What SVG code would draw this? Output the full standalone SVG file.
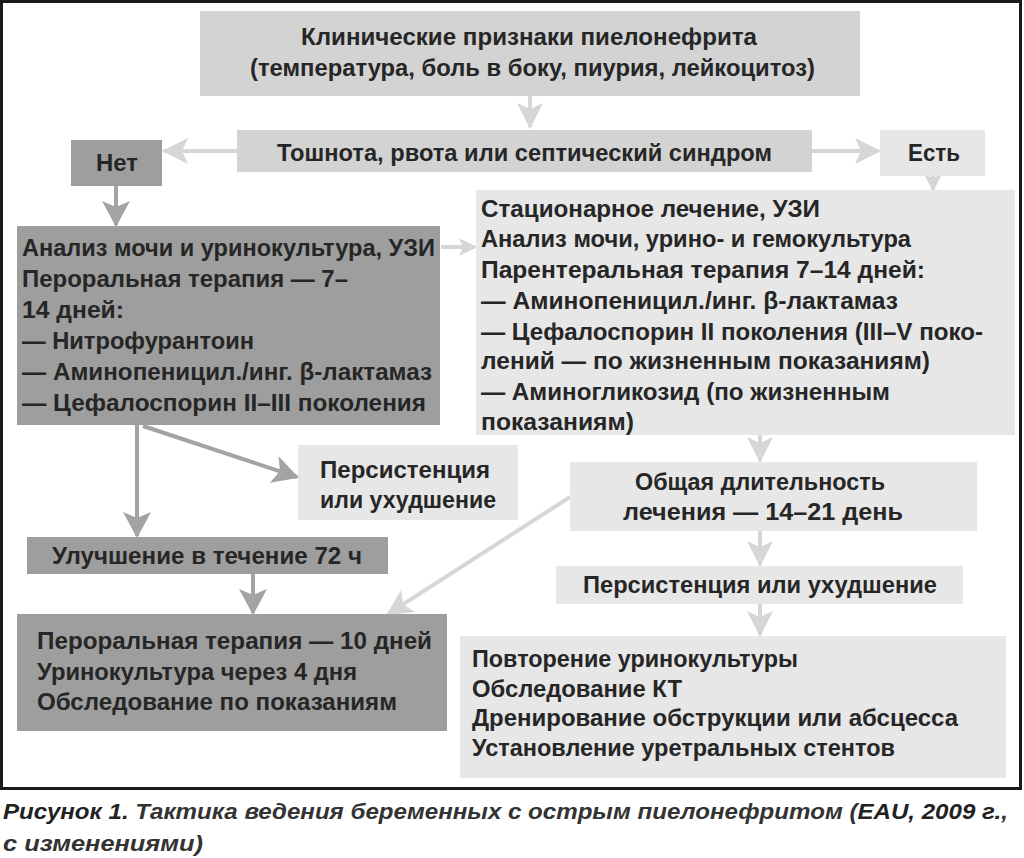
<svg xmlns="http://www.w3.org/2000/svg" width="1024" height="858" viewBox="0 0 1024 858">
<defs>
<style>
text{font-family:"Liberation Sans","Noto Sans",Arial,sans-serif;font-weight:bold;font-size:23px;fill:#262626}
.dark{fill:#9e9e9e}
.mid{fill:#d3d3d3}
.light{fill:#e7e7e7}
.cl{stroke:#d6d6d6;stroke-width:4;fill:none}
.cd{stroke:#a3a3a3;stroke-width:4;fill:none}
.cap{font-style:italic;font-size:22px;fill:#333;font-weight:bold}
</style>
<marker id="al" markerUnits="userSpaceOnUse" markerWidth="30" markerHeight="30" refX="24" refY="13" orient="auto"><path d="M0,0 L26,13 L0,26 L6,13 z" fill="#d6d6d6"/></marker>
<marker id="ad" markerUnits="userSpaceOnUse" markerWidth="30" markerHeight="30" refX="24" refY="14" orient="auto"><path d="M0,0 L26,14 L0,28 L6,14 z" fill="#a3a3a3"/></marker>
<marker id="as" markerUnits="userSpaceOnUse" markerWidth="20" markerHeight="20" refX="16" refY="9" orient="auto"><path d="M0,0 L18,9 L0,18 L4,9 z" fill="#d6d6d6"/></marker>
</defs>
<rect x="0" y="0" width="1024" height="858" fill="#fff"/>
<rect x="1.5" y="1.5" width="1019" height="787" fill="#fff" stroke="#1a1a1a" stroke-width="3"/>

<g id="connectors">
<path class="cl" d="M530,96 V127" marker-end="url(#al)"/>
<path class="cl" d="M237,151 H164" marker-end="url(#al)"/>
<path class="cl" d="M812,151 H879" marker-end="url(#al)"/>
<path class="cl" d="M933,176 V190" stroke-width="3" marker-end="url(#as)"/>
<path class="cd" d="M116,186 V225" marker-end="url(#ad)"/>
<path class="cl" d="M441,247 H475" marker-end="url(#as)"/>
<path class="cd" d="M137,425 V536" marker-end="url(#ad)"/>
<path class="cd" d="M143,426 L297,477" stroke-width="3" marker-end="url(#ad)"/>
<path class="cd" d="M253,574 V613" marker-end="url(#ad)"/>
<path class="cl" d="M760,435 V461" marker-end="url(#al)"/>
<path class="cl" d="M760,531 V565" marker-end="url(#al)"/>
<path class="cl" d="M760,604 V635" marker-end="url(#al)"/>
<path class="cl" d="M570,497 L388,614" stroke-width="2" marker-end="url(#al)"/>
</g>

<g id="n-top">
<rect class="mid" x="200" y="11" width="660" height="85"/>
<text x="301" y="45" textLength="456" lengthAdjust="spacingAndGlyphs">Клинические признаки пиелонефрита</text>
<text x="250" y="76" textLength="565" lengthAdjust="spacingAndGlyphs">(температура, боль в боку, пиурия, лейкоцитоз)</text>
</g>

<g id="n-nausea">
<rect class="mid" x="237" y="130" width="575" height="42"/>
<text x="277" y="161" textLength="495" lengthAdjust="spacingAndGlyphs">Тошнота, рвота или септический синдром</text>
</g>

<g id="n-no">
<rect class="dark" x="71" y="140" width="91" height="46"/>
<text x="96" y="171" textLength="42" lengthAdjust="spacingAndGlyphs">Нет</text>
</g>

<g id="n-yes">
<rect class="light" x="880" y="130" width="105" height="46"/>
<text x="908" y="161" textLength="52" lengthAdjust="spacingAndGlyphs">Есть</text>
</g>

<g id="n-oral">
<rect class="dark" x="17" y="226" width="423" height="199"/>
<text x="22" y="256" textLength="413" lengthAdjust="spacingAndGlyphs">Анализ мочи и уринокультура, УЗИ</text>
<text x="22" y="287" textLength="326" lengthAdjust="spacingAndGlyphs">Пероральная терапия — 7–</text>
<text x="22" y="318" textLength="102" lengthAdjust="spacingAndGlyphs">14 дней:</text>
<text x="22" y="349" textLength="232" lengthAdjust="spacingAndGlyphs">— Нитрофурантоин</text>
<text x="22" y="380" textLength="410" lengthAdjust="spacingAndGlyphs">— Аминопеницил./инг. β-лактамаз</text>
<text x="22" y="411" textLength="404" lengthAdjust="spacingAndGlyphs">— Цефалоспорин II–III поколения</text>
</g>

<g id="n-inpatient">
<rect class="light" x="476" y="190" width="539" height="245"/>
<text x="481" y="217" textLength="339" lengthAdjust="spacingAndGlyphs">Стационарное лечение, УЗИ</text>
<text x="481" y="247" textLength="430" lengthAdjust="spacingAndGlyphs">Анализ мочи, урино- и гемокультура</text>
<text x="481" y="278" textLength="444" lengthAdjust="spacingAndGlyphs">Парентеральная терапия 7–14 дней:</text>
<text x="481" y="309" textLength="417" lengthAdjust="spacingAndGlyphs">— Аминопеницил./инг. β-лактамаз</text>
<text x="481" y="340" textLength="502" lengthAdjust="spacingAndGlyphs">— Цефалоспорин II поколения (III–V поко-</text>
<text x="481" y="369" textLength="449" lengthAdjust="spacingAndGlyphs">лений — по жизненным показаниям)</text>
<text x="481" y="400" textLength="409" lengthAdjust="spacingAndGlyphs">— Аминогликозид (по жизненным</text>
<text x="481" y="430" textLength="153" lengthAdjust="spacingAndGlyphs">показаниям)</text>
</g>

<g id="n-persist1">
<rect class="light" x="298" y="445" width="220" height="75"/>
<text x="320" y="478" textLength="170" lengthAdjust="spacingAndGlyphs">Персистенция</text>
<text x="320" y="508" textLength="176" lengthAdjust="spacingAndGlyphs">или ухудшение</text>
</g>

<g id="n-improve">
<rect class="dark" x="27" y="537" width="361" height="37"/>
<text x="52" y="564" textLength="310" lengthAdjust="spacingAndGlyphs">Улучшение в течение 72 ч</text>
</g>

<g id="n-oral10">
<rect class="dark" x="17" y="614" width="430" height="117"/>
<text x="37" y="649" textLength="395" lengthAdjust="spacingAndGlyphs">Пероральная терапия — 10 дней</text>
<text x="37" y="680" textLength="320" lengthAdjust="spacingAndGlyphs">Уринокультура через 4 дня</text>
<text x="37" y="710" textLength="360" lengthAdjust="spacingAndGlyphs">Обследование по показаниям</text>
</g>

<g id="n-duration">
<rect class="light" x="570" y="462" width="407" height="69"/>
<text x="635" y="490" textLength="250" lengthAdjust="spacingAndGlyphs">Общая длительность</text>
<text x="623" y="520" textLength="280" lengthAdjust="spacingAndGlyphs">лечения — 14–21 день</text>
</g>

<g id="n-persist2">
<rect class="light" x="556" y="566" width="407" height="38"/>
<text x="583" y="593" textLength="354" lengthAdjust="spacingAndGlyphs">Персистенция или ухудшение</text>
</g>

<g id="n-actions">
<rect class="light" x="460" y="636" width="546" height="142"/>
<text x="472" y="667" textLength="326" lengthAdjust="spacingAndGlyphs">Повторение уринокультуры</text>
<text x="472" y="697" textLength="210" lengthAdjust="spacingAndGlyphs">Обследование КТ</text>
<text x="472" y="726" textLength="486" lengthAdjust="spacingAndGlyphs">Дренирование обструкции или абсцесса</text>
<text x="472" y="756" textLength="423" lengthAdjust="spacingAndGlyphs">Установление уретральных стентов</text>
</g>

<g id="caption">
<text class="cap" x="3" y="819" textLength="1005" lengthAdjust="spacingAndGlyphs"><tspan font-weight="900" fill="#222">Рисунок 1.</tspan> Тактика ведения беременных с острым пиелонефритом (<tspan font-weight="900" fill="#222">EAU, 2009 г.</tspan>,</text>
<text class="cap" x="3" y="851" textLength="200" lengthAdjust="spacingAndGlyphs">с изменениями)</text>
</g>
</svg>
